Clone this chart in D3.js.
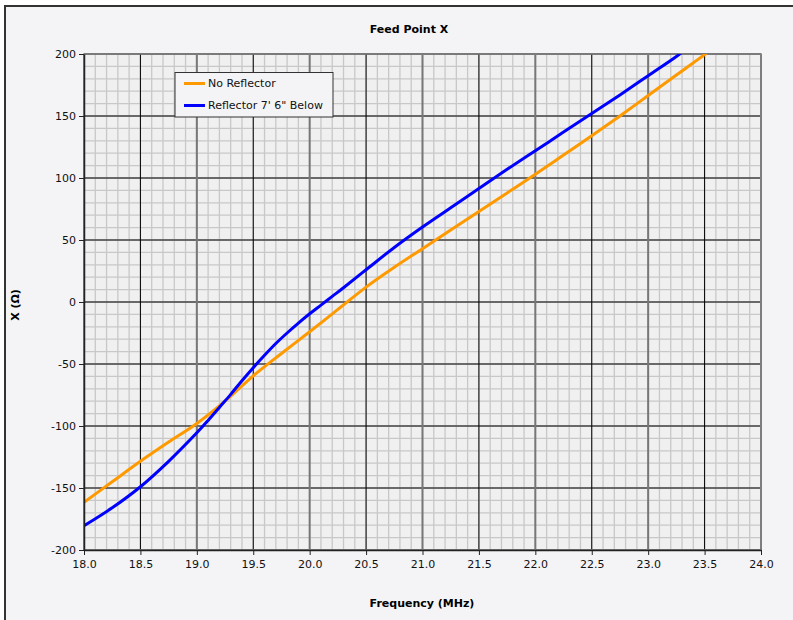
<!DOCTYPE html>
<html>
<head>
<meta charset="utf-8">
<script src="https://cdn.jsdelivr.net/npm/d3@7"></script>
<style>
  html, body { margin: 0; padding: 0; background: #ffffff; }
  svg { display: block; font-family: "DejaVu Sans", Verdana, sans-serif; }
</style>
</head>
<body>
<svg id="chart" width="793" height="620"></svg>
<script>
// ---- data ----
const chartTitle = "Feed Point X";
const xAxisTitle = "Frequency (MHz)";
const yAxisTitle = "X (Ω)";
const seriesNames = ["No Reflector", "Reflector 7' 6\" Below"];
const seriesColors = ["#ff9900", "#0000ff"];

const freqNoRefl = [18.0, 18.25, 18.5, 18.75, 19.0, 19.25, 19.5, 19.75, 20.0, 20.25, 20.5, 20.75, 21.0, 21.25, 21.5, 21.75, 22.0, 22.25, 22.5, 22.75, 23.0, 23.25, 23.5, 23.55];
const xNoRefl =    [-161.5, -145, -128.5, -113, -98, -80, -59.5, -41.5, -24, -6, 12, 28, 43, 58, 73, 88, 103, 118.5, 134, 150, 166.5, 183, 199.5, 203];

const freqRefl = [18.0, 18.25, 18.5, 18.75, 19.0, 19.1, 19.2, 19.3, 19.4, 19.5, 19.6, 19.7, 19.8, 19.9, 20.0, 20.1, 20.2, 20.3, 20.5, 20.75, 21.0, 21.25, 21.5, 21.75, 22.0, 22.25, 22.5, 22.75, 23.0, 23.25, 23.35];
const xRefl =    [-180.5, -166, -149, -128.5, -105.5, -95.5, -85, -74.5, -63.5, -53, -43, -33.5, -25, -17, -9.5, -2.5, 4.5, 11.5, 26, 44, 60.5, 76, 91.5, 107, 122, 137, 152, 167, 182.5, 198, 205];

const xTicks = [18.0, 18.5, 19.0, 19.5, 20.0, 20.5, 21.0, 21.5, 22.0, 22.5, 23.0, 23.5, 24.0];
const yTicks = [-200, -150, -100, -50, 0, 50, 100, 150, 200];

// ---- layout ----
const svg = d3.select("#chart");
const plot = { left: 84, top: 54, right: 761, bottom: 550 };

const x = d3.scaleLinear().domain([18, 24]).range([plot.left, plot.right]);
const y = d3.scaleLinear().domain([-200, 200]).range([plot.bottom, plot.top]);

// outer background + frame
svg.append("rect").attr("x", 5).attr("y", 6).attr("width", 820).attr("height", 640)
  .attr("fill", "#f4f4f6").attr("stroke", "#333").attr("stroke-width", 2);

// plot background
svg.append("rect").attr("x", plot.left).attr("y", plot.top)
  .attr("width", plot.right - plot.left).attr("height", plot.bottom - plot.top)
  .attr("fill", "#f0f0f0");

// minor grid
const minorX = d3.range(61).map(i => 18 + i * 0.1);
const minorY = d3.range(41).map(i => -200 + i * 10);
const grid = svg.append("g");
grid.selectAll("line.mx").data(minorX).join("line")
  .attr("x1", d => x(d)).attr("x2", d => x(d))
  .attr("y1", plot.top).attr("y2", plot.bottom)
  .attr("stroke", "#c8c8c8").attr("stroke-width", 1.3);
grid.selectAll("line.my").data(minorY).join("line")
  .attr("x1", plot.left).attr("x2", plot.right)
  .attr("y1", d => y(d)).attr("y2", d => y(d))
  .attr("stroke", "#c8c8c8").attr("stroke-width", 1.3);

// major grid
grid.selectAll("line.My").data(yTicks).join("line")
  .attr("x1", plot.left).attr("x2", plot.right)
  .attr("y1", d => y(d)).attr("y2", d => y(d))
  .attr("stroke", "#000").attr("stroke-width", 1);
grid.selectAll("line.Mx").data(xTicks).join("line")
  .attr("x1", d => x(d)).attr("x2", d => x(d))
  .attr("y1", plot.top).attr("y2", plot.bottom)
  .attr("stroke", d => Math.abs(d - Math.round(d)) < 1e-6 ? "#777" : "#000")
  .attr("stroke-width", d => Math.abs(d - Math.round(d)) < 1e-6 ? 2 : 1);

// plot border
svg.append("rect").attr("x", plot.left).attr("y", plot.top)
  .attr("width", plot.right - plot.left).attr("height", plot.bottom - plot.top)
  .attr("fill", "none").attr("stroke", "#808080").attr("stroke-width", 1.5);

// clip
svg.append("clipPath").attr("id", "clip").append("rect")
  .attr("x", plot.left).attr("y", plot.top)
  .attr("width", plot.right - plot.left).attr("height", plot.bottom - plot.top);

// lines
const line = d3.line().x(d => x(d[0])).y(d => y(d[1])).curve(d3.curveCatmullRom.alpha(0.5));
const series = [
  d3.zip(freqNoRefl, xNoRefl),
  d3.zip(freqRefl, xRefl)
];
const lg = svg.append("g").attr("clip-path", "url(#clip)");
series.forEach((s, i) => {
  lg.append("path").datum(s).attr("d", line)
    .attr("fill", "none").attr("stroke", seriesColors[i]).attr("stroke-width", 3)
    .attr("stroke-linejoin", "round");
});

// axes
const xAxis = d3.axisBottom(x).tickValues(xTicks).tickFormat(d => d3.format(".1f")(d)).tickSize(5).tickSizeOuter(0);
const yAxis = d3.axisLeft(y).tickValues(yTicks).tickFormat(d => (d < 0 ? "-" : "") + Math.abs(d)).tickSize(5).tickSizeOuter(0);

const gx = svg.append("g").attr("transform", `translate(0,${plot.bottom})`).call(xAxis);
gx.select(".domain").attr("stroke", "#222").attr("stroke-width", 1.5);
gx.selectAll(".tick line").attr("stroke", "#222");
gx.selectAll(".tick text").attr("font-size", 11).attr("fill", "#111").attr("dy", "0.95em")
  .attr("font-family", "DejaVu Sans, Verdana, sans-serif");

const gy = svg.append("g").attr("transform", `translate(${plot.left},0)`).call(yAxis);
gy.select(".domain").attr("stroke", "#222").attr("stroke-width", 1.5);
gy.selectAll(".tick line").attr("stroke", "#222");
gy.selectAll(".tick text").attr("font-size", 11).attr("fill", "#111")
  .attr("font-family", "DejaVu Sans, Verdana, sans-serif");

// titles
svg.append("text").attr("x", 409).attr("y", 33).attr("text-anchor", "middle")
  .attr("font-size", 11).attr("font-weight", "bold").attr("fill", "#000").text(chartTitle);
svg.append("text").attr("x", 422).attr("y", 607).attr("text-anchor", "middle")
  .attr("font-size", 11).attr("font-weight", "bold").attr("fill", "#000").text(xAxisTitle);
svg.append("text").attr("transform", "translate(19,305) rotate(-90)").attr("text-anchor", "middle")
  .attr("font-size", 11).attr("font-weight", "bold").attr("fill", "#000").text(yAxisTitle);

// legend
const leg = svg.append("g");
leg.append("rect").attr("x", 175).attr("y", 72.5).attr("width", 158).attr("height", 44.5)
  .attr("fill", "#f4f4f6").attr("stroke", "#333").attr("stroke-width", 1);
seriesNames.forEach((name, i) => {
  const cy = 83.5 + i * 22;
  leg.append("line").attr("x1", 184).attr("x2", 205).attr("y1", cy).attr("y2", cy)
    .attr("stroke", seriesColors[i]).attr("stroke-width", 3);
  leg.append("text").attr("x", 208).attr("y", cy).attr("dy", "0.35em")
    .attr("font-size", 11).attr("fill", "#111").text(name);
});
</script>
</body>
</html>
